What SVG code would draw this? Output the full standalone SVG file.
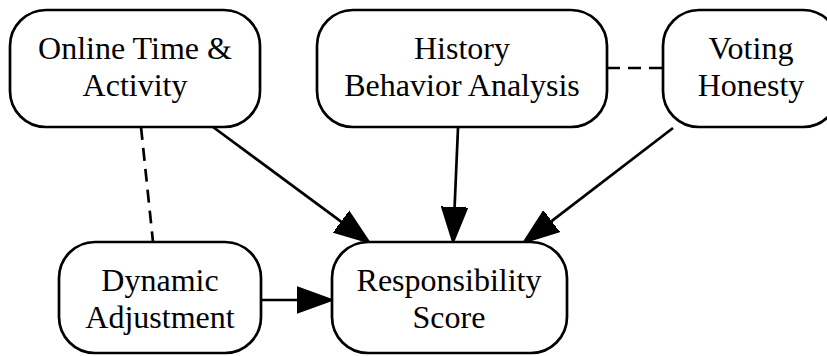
<svg xmlns="http://www.w3.org/2000/svg" width="827" height="356" viewBox="0 0 827 356">
  <style>
    .box { fill: #ffffff; stroke: #000000; stroke-width: 2.7; }
    .lbl { font-family: "Liberation Serif", "Times New Roman", serif; font-size: 32px; fill: #000000; text-anchor: middle; }
    .edge { fill: none; stroke: #000000; stroke-width: 2.7; }
    .dash { fill: none; stroke: #000000; stroke-width: 2.7; stroke-dasharray: 13 8; }
  </style>
  <defs>
    <marker id="arrow" markerUnits="userSpaceOnUse" viewBox="0 -14 38 28" markerWidth="38" markerHeight="28" refX="0" refY="0" orient="auto">
      <path d="M0,-13 L36,0 L0,13 Z" fill="#000000" stroke="#000000" stroke-width="1.5" stroke-linejoin="miter"/>
    </marker>
  </defs>
  <rect width="827" height="356" fill="#ffffff"/>

  <g id="edges">
    <line class="dash" x1="141" y1="127" x2="153" y2="242"/>
    <line class="dash" x1="607" y1="68" x2="663" y2="68"/>
    <line class="edge" x1="213" y1="127" x2="341.1" y2="221.6" marker-end="url(#arrow)"/>
    <line class="edge" x1="458" y1="128" x2="454.6" y2="207" marker-end="url(#arrow)"/>
    <line class="edge" x1="673" y1="128" x2="551.6" y2="221.1" marker-end="url(#arrow)"/>
    <line class="edge" x1="261" y1="300" x2="297" y2="300" marker-end="url(#arrow)"/>
  </g>

  <g id="node-online">
    <rect class="box" x="10" y="10" width="250" height="117" rx="36" ry="36"/>
    <text class="lbl" x="135" y="59">Online Time &amp;</text>
    <text class="lbl" x="135" y="96">Activity</text>
  </g>

  <g id="node-history">
    <rect class="box" x="317" y="10" width="290" height="117" rx="36" ry="36"/>
    <text class="lbl" x="462" y="59">History</text>
    <text class="lbl" x="462" y="96">Behavior Analysis</text>
  </g>

  <g id="node-voting">
    <rect class="box" x="663" y="10" width="176" height="117" rx="36" ry="36"/>
    <text class="lbl" x="751" y="59">Voting</text>
    <text class="lbl" x="751" y="96">Honesty</text>
  </g>

  <g id="node-dynamic">
    <rect class="box" x="59" y="242" width="202" height="111" rx="36" ry="36"/>
    <text class="lbl" x="160" y="291">Dynamic</text>
    <text class="lbl" x="160" y="328">Adjustment</text>
  </g>

  <g id="node-score">
    <rect class="box" x="332" y="242" width="235" height="111" rx="36" ry="36"/>
    <text class="lbl" x="449" y="291">Responsibility</text>
    <text class="lbl" x="449" y="328">Score</text>
  </g>
</svg>
